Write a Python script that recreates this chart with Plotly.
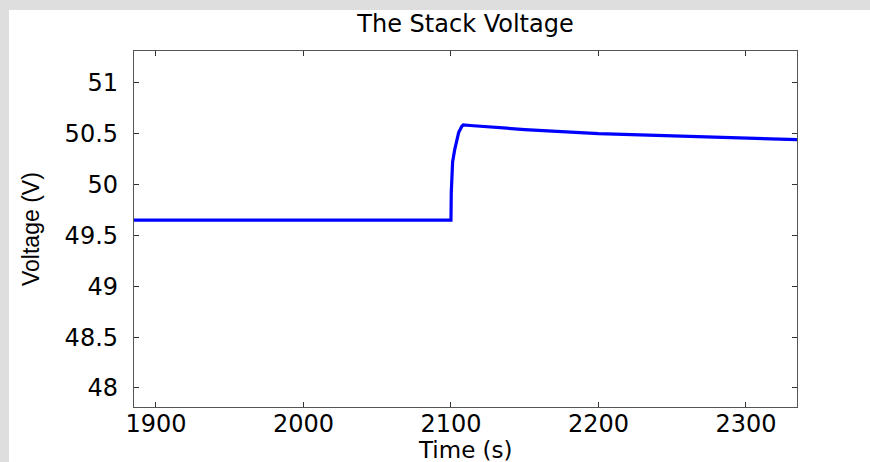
import plotly.graph_objects as go

# Data
time_s = [1885, 2100, 2100.2, 2101.1, 2102.5, 2103.9, 2105.2, 2107.3, 2108.3,
          2113, 2150, 2200, 2270, 2335]
voltage_v = [49.65, 49.65, 49.92, 50.22, 50.34, 50.44, 50.51, 50.57, 50.585,
             50.58, 50.54, 50.50, 50.47, 50.44]

x_ticks = [1900, 2000, 2100, 2200, 2300]
x_tick_text = ["1900", "2000", "2100", "2200", "2300"]
y_ticks = [48, 48.5, 49, 49.5, 50, 50.5, 51]
y_tick_text = ["48", "48.5", "49", "49.5", "50", "50.5", "51"]

title_text = "The Stack Voltage"
x_title = "Time (s)"
y_title = "Voltage (V)"

FONT = "DejaVu Sans"

fig = go.Figure()
fig.add_trace(go.Scatter(x=time_s, y=voltage_v, mode="lines",
                         line=dict(color="#0000ff", width=3.2),
                         showlegend=False, hoverinfo="skip"))

W, H = 870, 462
L, R, T, B = 134, 73, 51, 55
pw, ph = W - L - R, H - T - B

# white figure area over grey window background
fig.add_shape(type="rect", xref="paper", yref="paper",
              x0=(9 - L) / pw, x1=(W + 20 - L) / pw,
              y0=-(B + 20) / ph, y1=(H - B - 10) / ph,
              fillcolor="white", line=dict(width=0), layer="below")

axis_common = dict(showline=True, linecolor="#555555", linewidth=1.3,
                   mirror="ticks", ticks="inside", ticklen=5,
                   tickcolor="#333333", tickwidth=1, showgrid=False,
                   zeroline=False, automargin=False,
                   tickfont=dict(family=FONT, size=24, color="black"))

fig.update_xaxes(range=[1885.1, 2334.6], tickvals=x_ticks, ticktext=x_tick_text,
                 ticklabelstandoff=-5, **axis_common)
fig.update_yaxes(range=[47.813, 51.312], tickvals=y_ticks, ticktext=y_tick_text,
                 ticklabelstandoff=10, **axis_common)

# axis titles
fig.add_annotation(text=x_title, xref="paper", yref="paper",
                   x=0.5, y=(H - B - 450) / ph, xanchor="center", yanchor="middle",
                   showarrow=False, font=dict(family=FONT, size=23, color="black"))
fig.add_annotation(text=y_title, xref="paper", yref="paper",
                   x=(31 - L) / pw, y=0.5, xanchor="center", yanchor="middle",
                   textangle=-90, showarrow=False,
                   font=dict(family="Liberation Sans", size=23, color="black"))

fig.update_layout(
    width=W, height=H,
    margin=dict(l=L, r=R, t=T, b=B, pad=0, autoexpand=False),
    paper_bgcolor="#dedede", plot_bgcolor="white",
    title=dict(text=title_text, x=0.5, xref="paper", xanchor="center",
               y=1 - 24 / H, yref="container", yanchor="middle",
               font=dict(family=FONT, size=24, color="black")),
)

fig.write_html("out.html", config={"displayModeBar": False},
               post_script="document.body.style.margin='0px';"
                           "document.body.style.overflow='hidden';"
                           "document.body.style.background='#dedede';")
